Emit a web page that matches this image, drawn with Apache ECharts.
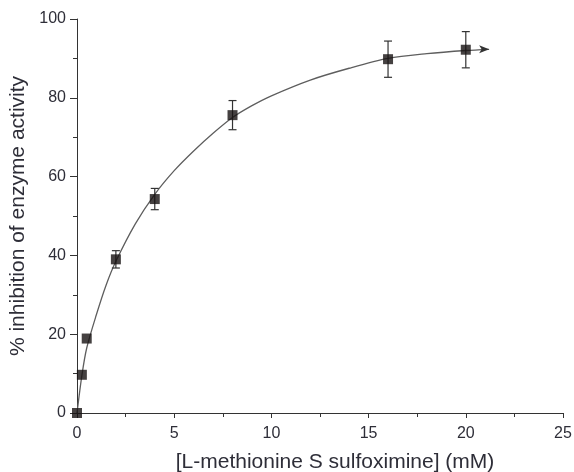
<!DOCTYPE html>
<html><head><meta charset="utf-8">
<script src="https://cdn.jsdelivr.net/npm/echarts@6/dist/echarts.min.js"></script>
<style>html,body{margin:0;padding:0;background:#fff}#c{width:574px;height:472px}</style>
</head><body><div id="c"></div>
<script>
// measured points
const concX = [0, 0.25, 0.5, 2, 4, 8, 16, 20];
const inhibition = [0, 9.7, 18.9, 39, 54.3, 75.6, 89.8, 92.2];
const errBar = [0, 0, 0, 2.2, 2.7, 3.7, 4.6, 4.6];
// fitted curve
const curveX = [0, 0.25, 0.5, 1, 1.5, 2, 3, 4, 5, 6, 7, 8, 9, 10, 12, 14, 16, 18, 20, 21.2];
const curveY = [0, 9.5, 16.5, 25, 32.5, 38.5, 48, 55.5, 61.5, 66.5, 71, 75, 78, 80.5, 84.5, 87.5, 90, 91.2, 92, 92.3];
const xTicks = [0, 5, 10, 15, 20, 25];
const yTicks = [0, 20, 40, 60, 80, 100];

const FONT = '"Liberation Sans", Arial, sans-serif';
const TXT = '#2e2e38';

const curveData = curveX.map((x, i) => {
  const last = i === curveX.length - 1;
  return last ? {value: [x, curveY[i]], symbol: 'arrow', symbolSize: [6, 10], symbolRotate: -90, itemStyle: {color: '#333'}} : [x, curveY[i]];
});

const chart = echarts.init(document.getElementById('c'), null, {renderer: 'canvas'});
chart.setOption({
  animation: false,
  backgroundColor: '#fff',
  grid: {left: 77, right: 11, top: 19, bottom: 59, containLabel: false, outerBoundsMode: 'none'},
  xAxis: {
    type: 'value', min: xTicks[0], max: xTicks[xTicks.length - 1], interval: 5,
    name: '[L-methionine S sulfoximine] (mM)', nameLocation: 'middle', nameGap: 39,
    nameTextStyle: {fontFamily: FONT, fontSize: 21, color: TXT, padding: [0, 0, 0, 30]},
    axisLine: {lineStyle: {color: '#333', width: 1}},
    axisTick: {show: true, length: 5, lineStyle: {color: '#333'}},
    minorTick: {show: true, splitNumber: 2, length: 4, lineStyle: {color: '#333'}},
    splitLine: {show: false},
    axisLabel: {fontFamily: FONT, fontSize: 16, color: TXT, margin: 13}
  },
  yAxis: {
    type: 'value', min: yTicks[0], max: yTicks[yTicks.length - 1], interval: 20,
    name: '% inhibition of enzyme activity', nameLocation: 'middle', nameGap: 40,
    nameTextStyle: {fontFamily: FONT, fontSize: 21, color: TXT},
    axisLine: {show: true, lineStyle: {color: '#333', width: 1}},
    axisTick: {show: true, length: 7, lineStyle: {color: '#333'}},
    minorTick: {show: true, splitNumber: 2, length: 4, lineStyle: {color: '#333'}},
    splitLine: {show: false},
    axisLabel: {fontFamily: FONT, fontSize: 16, color: TXT, margin: 11}
  },
  series: [
    {
      type: 'line', data: curveData, smooth: 0.3, showSymbol: true, symbol: 'none',
      lineStyle: {color: '#5e5e5e', width: 1.3}, z: 2
    },
    {
      type: 'custom', z: 3,
      data: concX.map((x, i) => [x, inhibition[i], errBar[i]]),
      renderItem: function (params, api) {
        const x = api.value(0), y = api.value(1), e = api.value(2);
        if (!e) return null;
        const top = api.coord([x, y + e]);
        const bot = api.coord([x, y - e]);
        const hw = 4;
        const st = {stroke: '#333', lineWidth: 1.2};
        return {type: 'group', children: [
          {type: 'line', shape: {x1: top[0], y1: top[1], x2: bot[0], y2: bot[1]}, style: st},
          {type: 'line', shape: {x1: top[0] - hw, y1: top[1], x2: top[0] + hw, y2: top[1]}, style: st},
          {type: 'line', shape: {x1: bot[0] - hw, y1: bot[1], x2: bot[0] + hw, y2: bot[1]}, style: st}
        ]};
      }
    },
    {
      type: 'scatter', z: 4,
      data: concX.map((x, i) => [x, inhibition[i]]),
      symbol: 'rect', symbolSize: 10,
      itemStyle: {color: '#161212'}
    }
  ]
});
</script></body></html>
